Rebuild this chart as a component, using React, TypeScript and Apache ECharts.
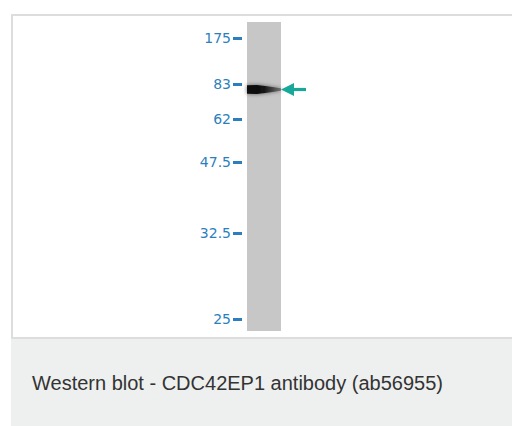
import React, { useEffect, useRef } from "react";
import * as echarts from "echarts";

// Lane / ladder data (migration measured from top of lane, in pixel-like units)
const laneNames = ["CDC42EP1"];
const laneLength = [309];
const markerKDa = ["175", "83", "62", "47.5", "32.5", "25"];
const markerMigration = [16.3, 62.3, 97.3, 140.3, 211.3, 297.3];
const bandMigration = [67.5];
const caption = "Western blot - CDC42EP1 antibody (ab56955)";

const BLUE = "#2c7fbc";
const TEAL = "#17a89a";

export default function App() {
  const ref = useRef<HTMLDivElement>(null);
  useEffect(() => {
    if (!ref.current) return;
    const chart = echarts.init(ref.current, undefined, { renderer: "svg" });
    chart.setOption({
      animation: false,
      backgroundColor: "#ffffff",
      grid: { left: 247, top: 22, width: 34, height: 309 },
      xAxis: {
        type: "category",
        data: laneNames,
        show: false,
      },
      yAxis: {
        type: "value",
        inverse: true,
        min: 0,
        max: laneLength[0],
        offset: 5,
        axisLine: { show: false },
        splitLine: { show: false },
        axisTick: {
          show: true,
          customValues: markerMigration,
          length: 9,
          lineStyle: { color: BLUE, width: 3 },
        },
        axisLabel: {
          customValues: markerMigration,
          margin: 11,
          color: BLUE,
          fontSize: 14,
          fontFamily: "DejaVu Sans",
          formatter: (v: number) => {
            const i = markerMigration.findIndex((m) => Math.abs(m - v) < 0.01);
            return i >= 0 ? markerKDa[i] : "";
          },
        },
      },
      series: [
        {
          type: "bar",
          data: laneLength,
          barWidth: "100%",
          itemStyle: { color: "#c7c7c7" },
          z: 1,
        },
        {
          type: "custom",
          z: 3,
          data: bandMigration.map((m) => [0, m]),
          renderItem: (params: any, api: any) => {
            const c = api.coord([api.value(0), api.value(1)]);
            const w = api.size([1, 0])[0];
            const x0 = c[0] - w / 2;
            const x1 = c[0] + w / 2;
            const cy = c[1];
            return {
              type: "group",
              children: [
                {
                  type: "polygon",
                  shape: {
                    points: [
                      [x0, cy - 4.2],
                      [x0 + 10, cy - 4.6],
                      [x0 + 22, cy - 3],
                      [x1, cy - 1.3],
                      [x1, cy + 1.3],
                      [x0 + 22, cy + 3],
                      [x0 + 10, cy + 4.6],
                      [x0, cy + 4.2],
                    ],
                  },
                  style: {
                    fill: new echarts.graphic.LinearGradient(0, 0, 1, 0, [
                      { offset: 0, color: "#080808" },
                      { offset: 0.5, color: "#141414" },
                      { offset: 1, color: "rgba(90,90,90,0.7)" },
                    ]),
                    shadowBlur: 4,
                    shadowColor: "rgba(0,0,0,0.55)",
                  },
                },
                {
                  type: "polygon",
                  shape: {
                    points: [
                      [x1, cy],
                      [x1 + 13, cy - 6.5],
                      [x1 + 13, cy + 6.5],
                    ],
                  },
                  style: { fill: TEAL },
                },
                {
                  type: "rect",
                  shape: { x: x1 + 12, y: cy - 1.6, width: 13, height: 3.2 },
                  style: { fill: TEAL },
                },
              ],
            };
          },
        },
      ],
      graphic: [
        {
          type: "rect",
          z: -10,
          shape: { x: 12, y: 15, width: 520, height: 323 },
          style: { fill: "#ffffff", stroke: "#dddddd", lineWidth: 2 },
        },
        {
          type: "rect",
          z: -9,
          shape: { x: 11, y: 339, width: 501, height: 87 },
          style: { fill: "#eeefef" },
        },
        {
          type: "text",
          z: -8,
          x: 32,
          y: 383,
          style: {
            text: caption,
            fill: "#333333",
            fontSize: 20,
            fontFamily: "Liberation Sans, Arial, sans-serif",
            textVerticalAlign: "middle",
          },
        },
      ],
    });
    return () => chart.dispose();
  }, []);
  return (
    <div
      ref={ref}
      style={{ position: "absolute", left: 0, top: 0, width: 512, height: 426 }}
    />
  );
}
